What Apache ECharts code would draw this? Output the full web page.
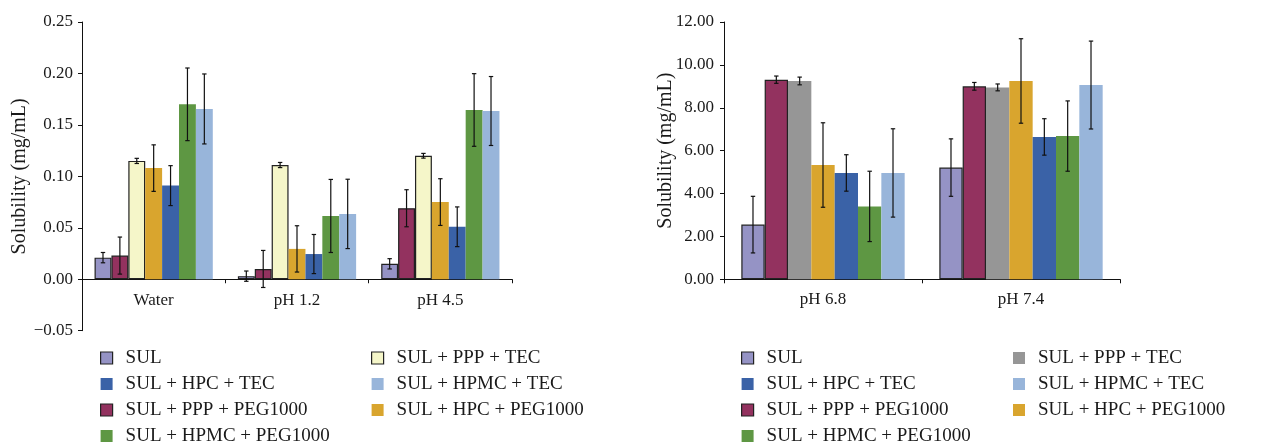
<!DOCTYPE html>
<html><head><meta charset="utf-8">
<script src="https://cdn.jsdelivr.net/npm/echarts@6/dist/echarts.min.js"></script>
<style>html,body{margin:0;padding:0;background:#fff;}#l{position:absolute;left:0;top:0;width:640px;height:448px;}#r{position:absolute;left:640px;top:0;width:634px;height:448px;}</style>
</head><body><div id="l"></div><div id="r"></div>
<script>
// ---------- data ----------
const leftCategories = ['Water', 'pH 1.2', 'pH 4.5'];
const rightCategories = ['pH 6.8', 'pH 7.4'];
const seriesNames = ['SUL', 'SUL + PPP + PEG1000', 'SUL + PPP + TEC', 'SUL + HPC + PEG1000', 'SUL + HPC + TEC', 'SUL + HPMC + PEG1000', 'SUL + HPMC + TEC'];
const legendCol1 = ['SUL', 'SUL + HPC + TEC', 'SUL + PPP + PEG1000', 'SUL + HPMC + PEG1000'];
const legendCol2 = ['SUL + PPP + TEC', 'SUL + HPMC + TEC', 'SUL + HPC + PEG1000'];
const leftValues = [
  [0.021, 0.003, 0.015],
  [0.023, 0.010, 0.069],
  [0.115, 0.111, 0.120],
  [0.108, 0.0295, 0.075],
  [0.091, 0.0245, 0.051],
  [0.170, 0.0615, 0.1645],
  [0.1655, 0.0635, 0.1635]
];
const leftErrors = [
  [0.005, 0.005, 0.005],
  [0.018, 0.018, 0.018],
  [0.0025, 0.0025, 0.0023],
  [0.0226, 0.0225, 0.0227],
  [0.0194, 0.019, 0.0193],
  [0.0353, 0.0355, 0.0353],
  [0.034, 0.0337, 0.0335]
];
const rightValues = [
  [2.55, 5.21],
  [9.31, 9.00],
  [9.25, 8.95],
  [5.33, 9.25],
  [4.96, 6.64],
  [3.40, 6.68],
  [4.96, 9.06]
];
const rightErrors = [
  [1.32, 1.34],
  [0.17, 0.18],
  [0.18, 0.16],
  [1.97, 1.97],
  [0.85, 0.85],
  [1.64, 1.64],
  [2.06, 2.05]
];
const leftTicks = {min: -0.05, max: 0.25, interval: 0.05};
const rightTicks = {min: 0, max: 12, interval: 2};

// ---------- styles ----------
const FONT = '"Liberation Serif", "DejaVu Serif", serif';
const TXT = '#1a1a1a';
const leftColors = ['#9593c5', '#93325f', '#f5f6c9', '#d9a52e', '#3a62a7', '#5e9743', '#98b5da'];
const rightColors = ['#9593c5', '#93325f', '#969696', '#d9a52e', '#3a62a7', '#5e9743', '#98b5da'];
const leftBorder = [true, true, true, false, false, false, false];
const rightBorder = [true, true, false, false, false, false, false];
const GAP = 0.175;

function build(cats, values, errors, colors, borders, ticks, fmt, g) {
  const n = seriesNames.length;
  const series = seriesNames.map((name, i) => ({
    type: 'bar', name: name,
    data: values[i],
    barGap: '0%', barCategoryGap: (GAP * 100) + '%',
    itemStyle: {color: colors[i], borderColor: borders[i] ? '#222' : colors[i], borderWidth: borders[i] ? 1.2 : 0},
    emphasis: {disabled: true},
    animation: false
  }));
  const errData = [];
  for (let s = 0; s < n; s++) for (let c = 0; c < cats.length; c++) errData.push([c, values[s][c], errors[s][c], s]);
  series.push({
    type: 'custom', name: 'err', z: 10, animation: false, silent: true,
    data: errData,
    encode: {x: 0, y: 1},
    renderItem: function (params, api) {
      const c = api.value(0), v = api.value(1), e = api.value(2), s = api.value(3);
      const band = api.size([1, 0])[0];
      const bw = band * (1 - GAP) / n;
      const x = api.coord([c, v])[0] + (s - (n - 1) / 2) * bw;
      const yt = api.coord([c, v + e])[1], yb = api.coord([c, v - e])[1];
      const st = {stroke: '#111', lineWidth: 1.2};
      const cw = 2.2;
      return {type: 'group', children: [
        {type: 'line', shape: {x1: x, y1: yt, x2: x, y2: yb}, style: st},
        {type: 'line', shape: {x1: x - cw, y1: yt, x2: x + cw, y2: yt}, style: st},
        {type: 'line', shape: {x1: x - cw, y1: yb, x2: x + cw, y2: yb}, style: st}
      ]};
    }
  });
  function legendData(names) {
    return names.map(nm => {
      const i = seriesNames.indexOf(nm);
      return {name: nm, itemStyle: {color: colors[i], borderColor: borders[i] ? '#222' : colors[i], borderWidth: borders[i] ? 1.2 : 0}};
    });
  }
  const legendCommon = {orient: 'vertical', icon: 'rect', itemWidth: 12, itemHeight: 12, itemGap: 7, padding: 0,
    height: 99, selectedMode: false,
    textStyle: {fontFamily: FONT, fontSize: 19, color: TXT, lineHeight: 19, padding: [0, 0, 0, 8]}};
  return {
    animation: false,
    grid: {left: g.left, top: g.top, width: g.width, height: g.height, containLabel: false, outerBoundsMode: 'none'},
    xAxis: {type: 'category', data: cats,
      axisLine: {onZero: true, lineStyle: {color: '#111', width: 1}},
      axisTick: {show: true, length: 4, lineStyle: {color: '#111'}},
      axisLabel: {fontFamily: FONT, fontSize: 17, color: TXT, margin: g.labelMargin}},
    yAxis: {type: 'value', min: ticks.min, max: ticks.max, interval: ticks.interval,
      name: 'Solubility (mg/mL)', nameLocation: 'middle', nameGap: g.nameGap, nameMoveOverlap: false,
      nameTextStyle: {fontFamily: FONT, fontSize: 20, color: TXT},
      axisLine: {show: true, lineStyle: {color: '#111', width: 1}},
      axisTick: {show: true, length: 4, lineStyle: {color: '#111'}},
      splitLine: {show: false},
      axisLabel: {fontFamily: FONT, fontSize: 17, color: TXT, margin: g.yMargin, formatter: fmt}},
    legend: [
      Object.assign({}, legendCommon, {left: g.leg1, top: 348.5, data: legendData(legendCol1)}),
      Object.assign({}, legendCommon, {left: g.leg2, top: 348.5, data: legendData(legendCol2)})
    ],
    series: series
  };
}

const lc = echarts.init(document.getElementById('l'), null, {renderer: 'canvas'});
lc.setOption(build(leftCategories, leftValues, leftErrors, leftColors, leftBorder, leftTicks,
  v => (v < 0 ? '\u2212' : '') + Math.abs(v).toFixed(2),
  {left: 82, top: 22, width: 430, height: 308.7, nameGap: 52, yMargin: 9, labelMargin: -39, leg1: 100, leg2: 371}));
const rc = echarts.init(document.getElementById('r'), null, {renderer: 'canvas'});
rc.setOption(build(rightCategories, rightValues, rightErrors, rightColors, rightBorder, rightTicks,
  v => v.toFixed(2),
  {left: 84, top: 22, width: 396, height: 257.3, nameGap: 48, yMargin: 10, labelMargin: 12, leg1: 101, leg2: 373}));
</script></body></html>
